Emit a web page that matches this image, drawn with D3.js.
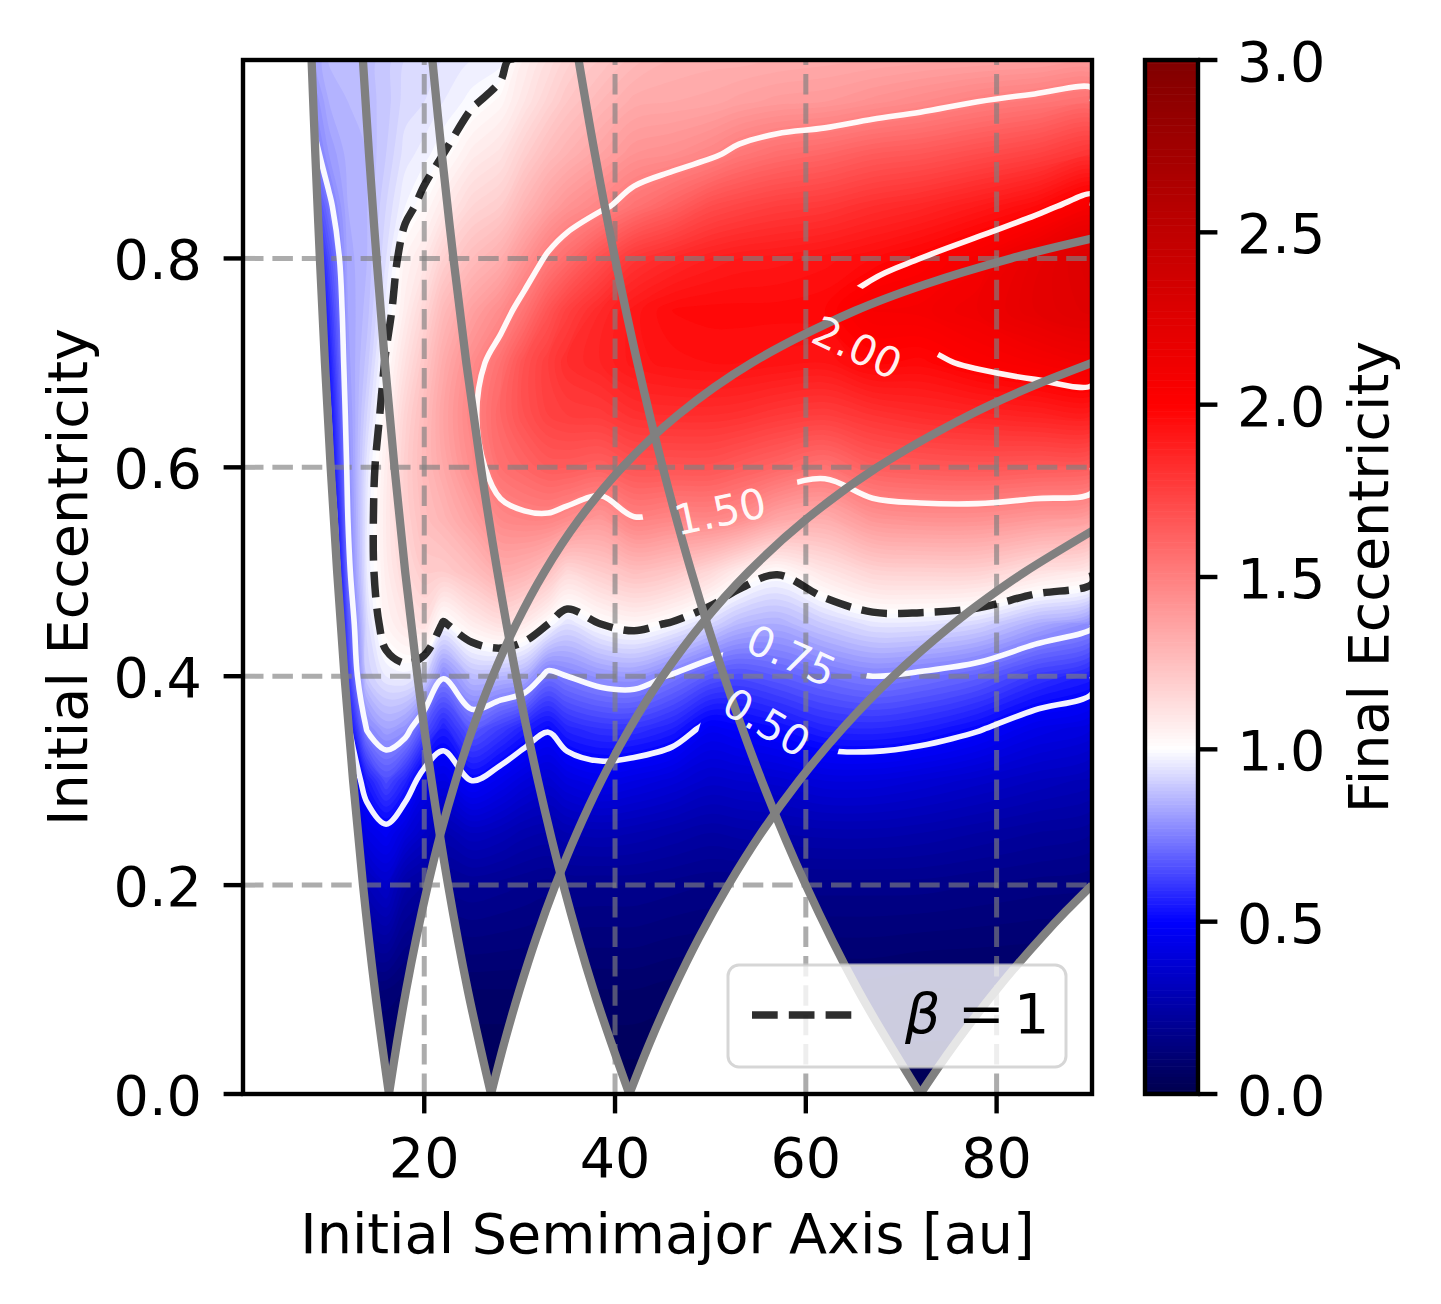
<!DOCTYPE html>
<html>
<head>
<meta charset="utf-8">
<script src="https://cdn.jsdelivr.net/npm/d3@7"></script>
<style>
  body { margin: 0; background: #fff; }
  svg { display: block; }
  text { font-family: "DejaVu Sans", sans-serif; }
</style>
</head>
<body>
<svg id="chart" width="1441" height="1304"></svg>
<script>
// ---------------- DATA ----------------
// grid columns: initial semimajor axis [au]
const semimajorAxis = [8, 10, 12, 14, 16, 18, 20, 22, 25, 28, 30.5, 33, 35, 38.5, 42, 46, 50, 53, 57, 62, 67, 72, 78, 84, 90];
// grid rows: initial eccentricity
const eccentricity = [0, 0.1, 0.2, 0.25, 0.3, 0.35, 0.4, 0.45, 0.5, 0.55, 0.6, 0.65, 0.7, 0.75, 0.8, 0.85, 0.9, 0.95, 0.99];
// final eccentricity, one list per semimajor-axis column (values along the eccentricity rows)
const finalEccByColumn = [
  [0.02, 0.06, 0.13, 0.16, 0.19, 0.22, 0.24, 0.25, 0.26, 0.27, 0.28, 0.30, 0.33, 0.36, 0.45, 0.58, 0.70, 0.76, 0.80], // 8
  [0.02, 0.05, 0.08, 0.10, 0.11, 0.13, 0.15, 0.22, 0.30, 0.38, 0.46, 0.50, 0.54, 0.59, 0.65, 0.73, 0.80, 0.84, 0.86], // 10
  [0.02, 0.10, 0.22, 0.30, 0.40, 0.48, 0.60, 0.66, 0.72, 0.75, 0.77, 0.79, 0.81, 0.82, 0.83, 0.84, 0.85, 0.86, 0.86], // 12
  [0.02, 0.12, 0.30, 0.43, 0.55, 0.76, 0.90, 0.93, 0.96, 0.96, 0.95, 0.92, 0.89, 0.87, 0.86, 0.86, 0.86, 0.87, 0.87], // 14
  [0.02, 0.12, 0.35, 0.47, 0.65, 0.82, 0.96, 1.04, 1.07, 1.08, 1.07, 1.04, 1.01, 0.97, 0.94, 0.92, 0.90, 0.89, 0.89], // 16
  [0.02, 0.10, 0.25, 0.40, 0.57, 0.79, 0.97, 1.09, 1.15, 1.18, 1.19, 1.17, 1.12, 1.07, 1.04, 0.98, 0.95, 0.93, 0.92], // 18
  [0.02, 0.09, 0.22, 0.34, 0.45, 0.66, 0.92, 1.12, 1.20, 1.25, 1.27, 1.26, 1.22, 1.16, 1.09, 1.02, 0.97, 0.94, 0.93], // 20
  [0.02, 0.08, 0.19, 0.28, 0.42, 0.56, 0.76, 0.99, 1.20, 1.29, 1.34, 1.36, 1.33, 1.27, 1.18, 1.08, 1.00, 0.96, 0.94], // 22
  [0.02, 0.08, 0.20, 0.32, 0.50, 0.68, 0.87, 1.07, 1.25, 1.37, 1.45, 1.48, 1.45, 1.37, 1.26, 1.16, 1.07, 0.99, 0.96], // 25
  [0.02, 0.08, 0.19, 0.30, 0.45, 0.62, 0.86, 1.12, 1.32, 1.46, 1.56, 1.60, 1.56, 1.45, 1.32, 1.20, 1.11, 1.03, 0.97], // 28
  [0.02, 0.08, 0.18, 0.27, 0.40, 0.56, 0.84, 1.08, 1.30, 1.48, 1.60, 1.68, 1.68, 1.55, 1.42, 1.29, 1.19, 1.10, 1.06], // 30.5
  [0.02, 0.08, 0.17, 0.26, 0.37, 0.51, 0.72, 1.00, 1.24, 1.48, 1.64, 1.74, 1.76, 1.67, 1.52, 1.37, 1.26, 1.17, 1.12], // 33
  [0.02, 0.08, 0.18, 0.28, 0.41, 0.57, 0.75, 0.94, 1.15, 1.45, 1.64, 1.76, 1.82, 1.75, 1.58, 1.42, 1.30, 1.22, 1.17], // 35
  [0.02, 0.08, 0.18, 0.29, 0.44, 0.60, 0.79, 1.00, 1.20, 1.40, 1.62, 1.77, 1.86, 1.84, 1.69, 1.48, 1.36, 1.28, 1.22], // 38.5
  [0.02, 0.08, 0.18, 0.28, 0.42, 0.60, 0.80, 1.03, 1.25, 1.49, 1.67, 1.81, 1.91, 1.91, 1.79, 1.55, 1.42, 1.33, 1.27], // 42
  [0.02, 0.07, 0.17, 0.26, 0.39, 0.56, 0.74, 0.99, 1.22, 1.47, 1.67, 1.82, 1.93, 1.96, 1.84, 1.62, 1.44, 1.34, 1.30], // 46
  [0.02, 0.07, 0.16, 0.24, 0.35, 0.47, 0.67, 0.92, 1.15, 1.47, 1.67, 1.82, 1.94, 1.97, 1.88, 1.70, 1.48, 1.35, 1.31], // 50
  [0.02, 0.07, 0.16, 0.25, 0.36, 0.49, 0.65, 0.86, 1.07, 1.44, 1.64, 1.81, 1.94, 1.97, 1.90, 1.73, 1.53, 1.37, 1.31], // 53
  [0.02, 0.07, 0.17, 0.26, 0.37, 0.52, 0.68, 0.84, 1.01, 1.35, 1.60, 1.78, 1.93, 1.97, 1.91, 1.76, 1.57, 1.39, 1.32], // 57
  [0.02, 0.07, 0.17, 0.27, 0.40, 0.57, 0.72, 0.90, 1.10, 1.32, 1.55, 1.76, 1.92, 1.98, 1.93, 1.78, 1.60, 1.40, 1.33], // 62
  [0.02, 0.07, 0.17, 0.27, 0.40, 0.58, 0.75, 0.95, 1.17, 1.41, 1.63, 1.80, 1.98, 2.06, 1.96, 1.82, 1.64, 1.43, 1.34], // 67
  [0.02, 0.06, 0.17, 0.26, 0.38, 0.56, 0.73, 0.95, 1.18, 1.43, 1.65, 1.83, 1.97, 2.07, 2.00, 1.85, 1.66, 1.46, 1.35], // 72
  [0.02, 0.06, 0.16, 0.24, 0.35, 0.51, 0.69, 0.92, 1.18, 1.43, 1.66, 1.85, 2.02, 2.12, 2.07, 1.90, 1.70, 1.50, 1.36], // 78
  [0.02, 0.06, 0.15, 0.22, 0.32, 0.44, 0.61, 0.84, 1.12, 1.40, 1.65, 1.87, 2.06, 2.20, 2.18, 1.96, 1.74, 1.53, 1.37], // 84
  [0.02, 0.06, 0.14, 0.20, 0.29, 0.40, 0.55, 0.77, 1.07, 1.36, 1.63, 1.88, 2.09, 2.25, 2.28, 2.06, 1.80, 1.56, 1.38]  // 90
];

// grey orbit-crossing boundaries, points [a, e]
const apocentreCurves = [
  [[16.3,0],[14.82,0.1],[13.58,0.2],[12.54,0.3],[11.64,0.4],[10.87,0.5],[10.19,0.6],[9.59,0.7],[9.06,0.8],[8.58,0.9],[8.19,0.99]],
  [[27,0],[24.55,0.1],[22.5,0.2],[20.77,0.3],[19.29,0.4],[18,0.5],[16.88,0.6],[15.88,0.7],[15,0.8],[14.21,0.9],[13.57,0.99]],
  [[41.5,0],[37.73,0.1],[34.58,0.2],[31.92,0.3],[29.64,0.4],[27.67,0.5],[25.94,0.6],[24.41,0.7],[23.06,0.8],[21.84,0.9],[20.85,0.99]],
  [[72,0],[65.45,0.1],[60,0.2],[55.38,0.3],[51.43,0.4],[48,0.5],[45,0.6],[42.35,0.7],[40,0.8],[37.89,0.9],[36.18,0.99]]
];
const pericentreCurves = [
  [[16.3,0],[17.16,0.05],[18.11,0.1],[19.18,0.15],[20.38,0.2],[21.73,0.25],[23.29,0.3],[25.08,0.35],[27.17,0.4],[29.64,0.45],[32.6,0.5],[36.22,0.55],[40.75,0.6],[46.57,0.65],[54.33,0.7],[65.2,0.75],[72.44,0.775],[81.5,0.8],[90,0.819]],
  [[27,0],[28.42,0.05],[30,0.1],[31.76,0.15],[33.75,0.2],[36,0.25],[38.57,0.3],[41.54,0.35],[45,0.4],[49.09,0.45],[54,0.5],[60,0.55],[67.5,0.6],[77.14,0.65],[83.08,0.675],[90,0.7]],
  [[41.5,0],[43.68,0.05],[46.11,0.1],[48.82,0.15],[51.88,0.2],[55.33,0.25],[59.29,0.3],[63.85,0.35],[69.17,0.4],[75.45,0.45],[79.04,0.475],[83,0.5],[90,0.539]],
  [[72,0],[73.85,0.025],[75.79,0.05],[77.84,0.075],[80,0.1],[82.29,0.125],[84.71,0.15],[87.27,0.175],[90,0.2]]
];

// contour levels
const whiteLevels = [0.5, 0.75, 1.5, 2.0];
const betaLevel = [1.0];
// tick labels
const xTicks = [20, 40, 60, 80];
const yTicks = [0.0, 0.2, 0.4, 0.6, 0.8];
const cbTicks = [0.0, 0.5, 1.0, 1.5, 2.0, 2.5, 3.0];
// inline contour labels (anchor in data coordinates)
const contourLabels = [
  { text: "2.00", a: 65.4, e: 0.715, angle: 25, gapA: 67.8, gapE: 0.7315, gapAngle: 28, gapW: 125, gapH: 56 },
  { text: "1.50", a: 51.0, e: 0.558, angle: -12, gapA: 51.1, gapE: 0.564, gapAngle: -10, gapW: 158, gapH: 46 },
  { text: "0.75", a: 58.5, e: 0.420, angle: 24, gapA: 58.9, gapE: 0.4136, gapAngle: 12, gapW: 145, gapH: 50 },
  { text: "0.50", a: 55.9, e: 0.356, angle: 31, gapA: 56.25, gapE: 0.3437, gapAngle: 16, gapW: 140, gapH: 50 }
];

// ---------------- LAYOUT ----------------
const W = 1441, H = 1304;
const P = { left: 243, right: 1092, top: 60, bottom: 1094 };
const CB = { left: 1145, right: 1198 };
const FS = 55.6, LFS = 41.7;

const x = d3.scaleLinear().domain([1, 90]).range([P.left, P.right]);
const y = d3.scaleLinear().domain([0, 0.99]).range([P.bottom, P.top]);
const cb = d3.scaleLinear().domain([0, 3]).range([P.bottom, P.top]);
// seismic colormap with two-slope norm (vmin 0, vcenter 1, vmax 3)
const color = d3.scaleLinear()
  .domain([0, 0.5, 1, 2, 3])
  .range(["rgb(0,0,77)", "rgb(0,0,255)", "rgb(255,255,255)", "rgb(255,0,0)", "rgb(128,0,0)"])
  .clamp(true);

const svg = d3.select("#chart");
svg.append("rect").attr("width", W).attr("height", H).attr("fill", "white");
const defs = svg.append("defs");

// ---------------- grid -> contours ----------------
const nA = semimajorAxis.length, nE = eccentricity.length;
const grid = [];
for (let j = 0; j < nE; j++) for (let i = 0; i < nA; i++) grid.push(finalEccByColumn[i][j]);
const gx = d3.scaleLinear().domain(semimajorAxis.map((_, i) => i + 0.5)).range(semimajorAxis).clamp(true);
const gy = d3.scaleLinear().domain(eccentricity.map((_, j) => j + 0.5)).range(eccentricity).clamp(true);
const toPx = p => [x(gx(p[0])), y(gy(p[1]))];

const smoothClosed = d3.line().curve(d3.curveCatmullRomClosed.alpha(0.5));
const smoothOpen = d3.line().curve(d3.curveCatmullRom.alpha(0.5));

function dedupe(pts) {
  const out = [];
  pts.forEach(p => {
    const l = out[out.length - 1];
    if (!l || Math.abs(l[0] - p[0]) > 0.05 || Math.abs(l[1] - p[1]) > 0.05) out.push(p);
  });
  return out;
}
function polyPath(mp) {
  let d = "";
  for (const poly of mp.coordinates) for (const ring of poly) {
    const pts = dedupe(ring.slice(0, -1).map(toPx));
    if (pts.length > 2) d += smoothClosed(pts);
  }
  return d;
}
function linePath(mp) {
  let d = "";
  for (const poly of mp.coordinates) for (const ring of poly) {
    const onBorder = (p, q) => (p[0] === 0 && q[0] === 0) || (p[0] === nA && q[0] === nA) ||
                               (p[1] === 0 && q[1] === 0) || (p[1] === nE && q[1] === nE);
    let hasBorder = false;
    for (let k = 1; k < ring.length; k++) if (onBorder(ring[k], ring[k - 1])) hasBorder = true;
    if (!hasBorder) {
      const pts = dedupe(ring.slice(0, -1).map(toPx));
      if (pts.length > 2) d += smoothClosed(pts);
      continue;
    }
    // rotate ring so it starts right after a border segment
    const n = ring.length - 1;
    let start = 0;
    for (let k = 0; k < n; k++) if (onBorder(ring[(k + 1) % n], ring[k])) { start = (k + 1) % n; break; }
    let seg = [];
    for (let m = 0; m <= n; m++) {
      const k = (start + m) % n;
      const p = ring[k];
      if (seg.length) {
        const q = ring[(k - 1 + n) % n];
        if (onBorder(p, q)) {
          if (seg.length > 1) d += smoothOpen(dedupe(seg.map(toPx)));
          seg = [p];
          continue;
        }
      }
      seg.push(p);
    }
    if (seg.length > 1) d += smoothOpen(dedupe(seg.map(toPx)));
  }
  return d;
}

const step = 0.02;
const bands = d3.contours().size([nA, nE]).thresholds(d3.range(0, 3, step))(grid);

// ---------------- clip: region where orbits cross a boundary ----------------
const curve = d3.line().x(d => x(d[0])).y(d => y(d[1])).curve(d3.curveCatmullRom);
const dataClip = defs.append("clipPath").attr("id", "dataClip");
apocentreCurves.forEach((apo, k) => {
  const peri = pericentreCurves[k].slice().reverse();
  const d = curve(apo) + "L" + x(90) + "," + y(0.99) + curve(peri).replace(/^M/, "L") + "Z";
  dataClip.append("path").attr("d", d);
});
defs.append("clipPath").attr("id", "plotClip")
  .append("rect").attr("x", P.left).attr("y", P.top)
  .attr("width", P.right - P.left).attr("height", P.bottom - P.top);

// label gap mask
const mask = defs.append("mask").attr("id", "labelGap").attr("maskUnits", "userSpaceOnUse")
  .attr("x", 0).attr("y", 0).attr("width", W).attr("height", H);
mask.append("rect").attr("width", W).attr("height", H).attr("fill", "white");
contourLabels.forEach(l => {
  mask.append("rect")
    .attr("x", -l.gapW / 2).attr("y", -l.gapH / 2)
    .attr("width", l.gapW).attr("height", l.gapH).attr("fill", "black")
    .attr("transform", `translate(${x(l.gapA)},${y(l.gapE)}) rotate(${l.gapAngle})`);
});

// ---------------- heatmap ----------------
svg.append("g").attr("clip-path", "url(#dataClip)")
  .selectAll("path").data(bands).join("path")
  .attr("d", polyPath)
  .attr("fill", d => color(d.value + step / 2));

// ---------------- grid lines ----------------
const gridG = svg.append("g").attr("stroke", "#808080").attr("stroke-opacity", 0.65)
  .attr("stroke-width", 5).attr("stroke-dasharray", "20.5 8.9").attr("fill", "none");
xTicks.forEach(t => gridG.append("line").attr("x1", x(t)).attr("x2", x(t)).attr("y1", P.bottom).attr("y2", P.top));
yTicks.filter(t => t > 0).forEach(t => gridG.append("line").attr("y1", y(t)).attr("y2", y(t)).attr("x1", P.left).attr("x2", P.right));

// ---------------- contour lines ----------------
const lineG = svg.append("g").attr("clip-path", "url(#dataClip)").append("g").attr("mask", "url(#labelGap)");
lineG.selectAll("path.w")
  .data(d3.contours().size([nA, nE]).thresholds(whiteLevels)(grid))
  .join("path").attr("class", "w")
  .attr("d", linePath).attr("fill", "none")
  .attr("stroke", "white").attr("stroke-opacity", 0.95).attr("stroke-width", 5.6)
  .attr("stroke-linejoin", "round");
svg.append("g").attr("clip-path", "url(#dataClip)")
  .selectAll("path")
  .data(d3.contours().size([nA, nE]).thresholds(betaLevel)(grid))
  .join("path")
  .attr("d", linePath).attr("fill", "none")
  .attr("stroke", "black").attr("stroke-opacity", 0.82).attr("stroke-width", 7.5)
  .attr("stroke-dasharray", "25.7 11.1");

// ---------------- grey boundary curves ----------------
const greyG = svg.append("g").attr("clip-path", "url(#plotClip)")
  .attr("fill", "none").attr("stroke", "#808080").attr("stroke-width", 8.3);
apocentreCurves.concat(pericentreCurves).forEach(c => greyG.append("path").attr("d", curve(c)));

// ---------------- contour labels ----------------
svg.append("g").selectAll("text").data(contourLabels).join("text")
  .attr("transform", d => `translate(${x(d.a)},${y(d.e)}) rotate(${d.angle})`)
  .attr("text-anchor", "middle").attr("dy", "0.36em")
  .attr("font-size", LFS).attr("fill", "white").attr("fill-opacity", 0.95)
  .text(d => d.text);

// ---------------- axes ----------------
const ax = svg.append("g");
ax.append("rect").attr("x", P.left).attr("y", P.top).attr("width", P.right - P.left)
  .attr("height", P.bottom - P.top).attr("fill", "none").attr("stroke", "black").attr("stroke-width", 4.4);
xTicks.forEach(t => {
  ax.append("line").attr("x1", x(t)).attr("x2", x(t)).attr("y1", P.bottom).attr("y2", P.bottom + 19.4)
    .attr("stroke", "black").attr("stroke-width", 4.4);
  ax.append("text").attr("x", x(t)).attr("y", 1177).attr("text-anchor", "middle")
    .attr("font-size", FS).text(d3.format("d")(t));
});
yTicks.forEach(t => {
  ax.append("line").attr("x1", P.left - 19.4).attr("x2", P.left).attr("y1", y(t)).attr("y2", y(t))
    .attr("stroke", "black").attr("stroke-width", 4.4);
  ax.append("text").attr("x", 202).attr("y", y(t) + 21).attr("text-anchor", "end")
    .attr("font-size", FS).text(d3.format(".1f")(t));
});
ax.append("text").attr("x", (P.left + P.right) / 2).attr("y", 1253).attr("text-anchor", "middle")
  .attr("font-size", FS).text("Initial Semimajor Axis [au]");
ax.append("text").attr("transform", `translate(87,${(P.top + P.bottom) / 2}) rotate(-90)`)
  .attr("text-anchor", "middle").attr("font-size", FS).text("Initial Eccentricity");

// ---------------- colorbar ----------------
const cbG = svg.append("g");
const cStep = 0.01;
cbG.selectAll("rect.c").data(d3.range(0, 3, cStep)).join("rect").attr("class", "c")
  .attr("x", CB.left).attr("width", CB.right - CB.left)
  .attr("y", d => cb(d + cStep) - 0.3).attr("height", d => cb(d) - cb(d + cStep) + 0.6)
  .attr("fill", d => color(d + cStep / 2));
cbG.append("rect").attr("x", CB.left).attr("y", P.top).attr("width", CB.right - CB.left)
  .attr("height", P.bottom - P.top).attr("fill", "none").attr("stroke", "black").attr("stroke-width", 4.4);
cbTicks.forEach(t => {
  cbG.append("line").attr("x1", CB.right).attr("x2", CB.right + 19.4).attr("y1", cb(t)).attr("y2", cb(t))
    .attr("stroke", "black").attr("stroke-width", 4.4);
  cbG.append("text").attr("x", 1237).attr("y", cb(t) + 21).attr("font-size", FS).text(d3.format(".1f")(t));
});
cbG.append("text").attr("transform", `translate(1388,${(P.top + P.bottom) / 2}) rotate(-90)`)
  .attr("text-anchor", "middle").attr("font-size", FS).text("Final Eccentricity");

// ---------------- legend ----------------
const lg = svg.append("g");
lg.append("rect").attr("x", 728).attr("y", 965).attr("width", 338).attr("height", 102).attr("rx", 11)
  .attr("fill", "white").attr("fill-opacity", 0.8).attr("stroke", "#cccccc").attr("stroke-opacity", 0.8).attr("stroke-width", 3);
lg.append("line").attr("x1", 752).attr("x2", 858).attr("y1", 1015).attr("y2", 1015)
  .attr("stroke", "black").attr("stroke-opacity", 0.82).attr("stroke-width", 7.5).attr("stroke-dasharray", "25.7 11.1");
const lt = lg.append("text").attr("y", 1033).attr("font-size", FS);
lt.append("tspan").attr("x", 905).attr("font-style", "italic").text("β");
lt.append("tspan").attr("x", 958).text("=");
lt.append("tspan").attr("x", 1014).text("1");
</script>
</body>
</html>
